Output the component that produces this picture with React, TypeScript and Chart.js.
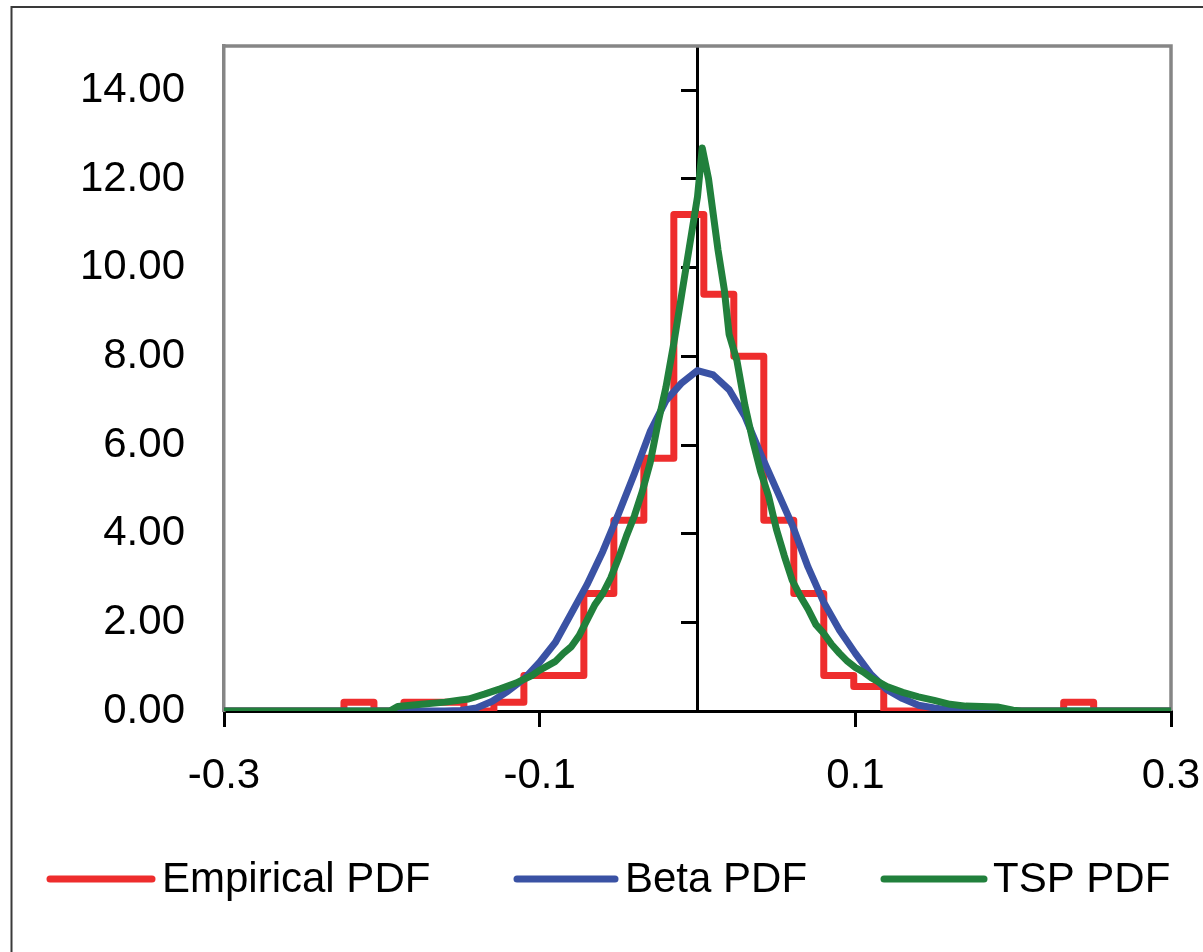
import React, { useEffect, useRef } from 'react';
import { Chart, registerables } from 'chart.js';

Chart.register(...registerables);

const FONT = '"Liberation Sans", Arial, Helvetica, sans-serif';

// Series names
const seriesNames = ['Empirical PDF', 'Beta PDF', 'TSP PDF'];
const seriesColors = ['#EE2D2D', '#3A52A4', '#21803C'];

// Empirical histogram: bin left edges and bin heights
const histEdges = [-0.3, -0.224, -0.205, -0.186, -0.167, -0.148, -0.129, -0.11, -0.091, -0.072, -0.053, -0.034, -0.015, 0.004, 0.023, 0.042, 0.061, 0.08, 0.099, 0.118, 0.232, 0.251, 0.3];
const histValues = [0, 0.2, 0, 0.2, 0.2, 0, 0.2, 0.8, 0.8, 2.65, 4.3, 5.7, 11.2, 9.4, 8.0, 4.3, 2.65, 0.8, 0.55, 0, 0.2, 0, 0];

// Beta PDF
const betaX = [-0.3, -0.16, -0.15, -0.14, -0.13, -0.12, -0.11, -0.1, -0.09, -0.08, -0.07, -0.06, -0.05, -0.04, -0.03, -0.02, -0.01, 0, 0.01, 0.02, 0.03, 0.04, 0.05, 0.06, 0.07, 0.08, 0.09, 0.1, 0.11, 0.12, 0.13, 0.14, 0.15, 0.16, 0.17, 0.3];
const betaY = [0, 0, 0.01, 0.07, 0.22, 0.45, 0.72, 1.1, 1.55, 2.2, 2.85, 3.6, 4.45, 5.35, 6.3, 7.0, 7.4, 7.68, 7.58, 7.25, 6.65, 5.8, 5.0, 4.2, 3.25, 2.45, 1.82, 1.3, 0.82, 0.48, 0.28, 0.13, 0.07, 0.02, 0, 0];

// TSP PDF
const tspX = [-0.3, -0.195, -0.19, -0.175, -0.16, -0.15, -0.145, -0.135, -0.125, -0.115, -0.105, -0.1, -0.09, -0.085, -0.08, -0.075, -0.07, -0.065, -0.06, -0.055, -0.05, -0.045, -0.04, -0.035, -0.03, -0.025, -0.02, -0.015, -0.01, -0.005, 0, 0.003, 0.007, 0.01, 0.013, 0.017, 0.02, 0.025, 0.03, 0.035, 0.04, 0.045, 0.05, 0.055, 0.06, 0.065, 0.07, 0.075, 0.08, 0.085, 0.09, 0.095, 0.1, 0.105, 0.11, 0.12, 0.13, 0.14, 0.15, 0.16, 0.17, 0.18, 0.19, 0.2, 0.205, 0.3];
const tspY = [0, 0, 0.1, 0.15, 0.2, 0.25, 0.27, 0.38, 0.5, 0.63, 0.8, 0.92, 1.12, 1.3, 1.45, 1.7, 2.05, 2.4, 2.65, 3.0, 3.45, 3.95, 4.4, 4.95, 5.6, 6.5, 7.3, 8.3, 9.4, 10.5, 11.6, 12.7, 12.0, 11.2, 10.4, 9.5, 8.5, 7.9, 6.9, 6.1, 5.4, 4.85, 4.1, 3.5, 2.95, 2.6, 2.3, 1.95, 1.75, 1.5, 1.3, 1.12, 0.98, 0.88, 0.75, 0.55, 0.42, 0.32, 0.24, 0.15, 0.11, 0.1, 0.09, 0.02, 0, 0];

// Axis settings
const xMin = -0.3;
const xMax = 0.3;
const xStep = 0.2;
const yMin = 0;
const yMax = 15;
const yStep = 2;

const toPoints = (xs: number[], ys: number[]) => xs.map((x, i) => ({ x, y: ys[i] }));

const framePlugin = {
  id: 'framePlugin',
  beforeDraw(chart: any) {
    const ctx = chart.ctx;
    ctx.save();
    ctx.fillStyle = '#ffffff';
    ctx.fillRect(0, 0, chart.width, chart.height);
    ctx.strokeStyle = '#3a3a3a';
    ctx.lineWidth = 2;
    ctx.beginPath();
    ctx.moveTo(11.5, chart.height + 10);
    ctx.lineTo(11.5, 7);
    ctx.lineTo(chart.width + 10, 7);
    ctx.stroke();
    ctx.restore();
  },
  beforeDatasetsDraw(chart: any) {
    const { ctx, chartArea } = chart;
    ctx.save();
    ctx.strokeStyle = '#868686';
    ctx.lineWidth = 3.5;
    ctx.beginPath();
    ctx.moveTo(chartArea.left - 1.5, chartArea.top);
    ctx.lineTo(chartArea.right, chartArea.top);
    ctx.lineTo(chartArea.right, chartArea.bottom);
    ctx.stroke();
    ctx.restore();
  },
};

const legendPlugin = {
  id: 'customLegend',
  afterDraw(chart: any) {
    const ctx = chart.ctx;
    const y = 879;
    const slots = [
      { x0: 50, x1: 152, tx: 162 },
      { x0: 517, x1: 615, tx: 625 },
      { x0: 884, x1: 984, tx: 993 },
    ];
    ctx.save();
    chart.data.datasets.forEach((ds: any, i: number) => {
      const s = slots[i];
      ctx.strokeStyle = ds.borderColor;
      ctx.lineWidth = 7;
      ctx.lineCap = 'round';
      ctx.beginPath();
      ctx.moveTo(s.x0, y);
      ctx.lineTo(s.x1, y);
      ctx.stroke();
      ctx.fillStyle = '#000000';
      ctx.font = `42px ${FONT}`;
      ctx.textBaseline = 'middle';
      ctx.textAlign = 'left';
      ctx.fillText(ds.label, s.tx, y + 1);
    });
    ctx.restore();
  },
};

export default function App() {
  const canvasRef = useRef<HTMLCanvasElement | null>(null);

  useEffect(() => {
    document.body.style.margin = '0';
    const canvas = canvasRef.current;
    if (!canvas) return;

    const chart = new Chart(canvas, {
      type: 'line',
      data: {
        datasets: [
          {
            label: seriesNames[0],
            data: toPoints(histEdges, histValues),
            borderColor: seriesColors[0],
            backgroundColor: seriesColors[0],
            borderWidth: 7,
            stepped: 'before',
            pointRadius: 0,
            fill: false,
            order: 3,
            borderJoinStyle: 'round',
          },
          {
            label: seriesNames[1],
            data: toPoints(betaX, betaY),
            borderColor: seriesColors[1],
            backgroundColor: seriesColors[1],
            borderWidth: 7,
            pointRadius: 0,
            tension: 0,
            fill: false,
            order: 2,
            borderJoinStyle: 'round',
          },
          {
            label: seriesNames[2],
            data: toPoints(tspX, tspY),
            borderColor: seriesColors[2],
            backgroundColor: seriesColors[2],
            borderWidth: 7,
            pointRadius: 0,
            tension: 0,
            fill: false,
            order: 1,
            borderJoinStyle: 'round',
          },
        ],
      },
      options: {
        animation: false,
        responsive: true,
        maintainAspectRatio: false,
        layout: { padding: { top: 46, right: 32, bottom: 141, left: 0 } },
        plugins: {
          legend: { display: false },
          tooltip: { enabled: false },
          title: { display: false },
        },
        scales: {
          x: {
            type: 'linear',
            position: 'bottom',
            min: xMin,
            max: xMax,
            ticks: {
              stepSize: xStep,
              color: '#000000',
              font: { size: 42, family: FONT },
              padding: 24,
              maxRotation: 0,
              callback: (v: any) => Number(v).toFixed(1),
            },
            grid: {
              display: true,
              drawOnChartArea: false,
              drawTicks: true,
              tickLength: 16,
              color: '#000000',
              lineWidth: 3,
            },
            border: { display: true, color: '#000000', width: 3 },
            afterFit: (scale: any) => {
              scale.height = 100;
              scale.paddingLeft = 0;
              scale.paddingRight = 0;
            },
          },
          y: {
            type: 'linear',
            position: 'left',
            min: yMin,
            max: yMax,
            ticks: {
              stepSize: yStep,
              includeBounds: false,
              color: '#000000',
              font: { size: 42, family: FONT },
              padding: 39,
              callback: (v: any) => Number(v).toFixed(2),
            },
            grid: { display: false, drawTicks: false },
            border: { display: true, color: '#868686', width: 3.5 },
            afterFit: (scale: any) => {
              scale.width = 224;
              scale.paddingTop = 0;
              scale.paddingBottom = 0;
            },
          },
          y0: {
            type: 'linear',
            position: { x: 0 },
            min: yMin,
            max: yMax,
            ticks: {
              stepSize: yStep,
              includeBounds: false,
              display: false,
            },
            grid: {
              display: true,
              drawOnChartArea: false,
              drawTicks: true,
              tickLength: 15,
              color: '#000000',
              lineWidth: 3,
            },
            border: { display: true, color: '#000000', width: 3 },
            afterFit: (scale: any) => {
              scale.width = 0;
              scale.paddingTop = 0;
              scale.paddingBottom = 0;
            },
          },
        },
      } as any,
      plugins: [framePlugin, legendPlugin],
    });

    return () => {
      chart.destroy();
    };
  }, []);

  return (
    <div style={{ position: 'relative', width: '1203px', height: '952px' }}>
      <canvas ref={canvasRef} />
    </div>
  );
}
